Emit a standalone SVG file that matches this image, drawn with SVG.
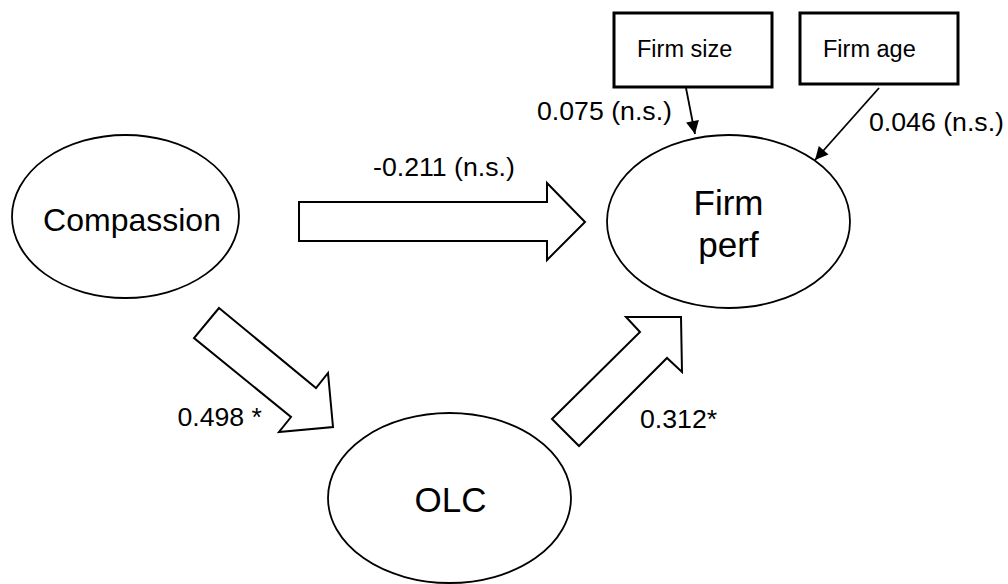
<svg xmlns="http://www.w3.org/2000/svg" width="1008" height="584" viewBox="0 0 1008 584">
  <style>
    .node { fill: #fff; stroke: #000; stroke-width: 1.8; }
    .box { fill: #fff; stroke: #000; stroke-width: 3; }
    .block { fill: #fff; stroke: #000; stroke-width: 2; stroke-linejoin: miter; }
    .thin { stroke: #000; stroke-width: 1.8; fill: none; }
    text { font-family: "Liberation Sans", Arial, sans-serif; fill: #000; }
    .lbl { font-size: 26.7px; }
    .big { font-size: 35px; text-anchor: middle; }
    .small { font-size: 23.5px; }
  </style>
  <defs>
    <marker id="ah" viewBox="0 0 10 10" refX="10" refY="5" markerWidth="16" markerHeight="13" markerUnits="userSpaceOnUse" orient="auto">
      <path d="M0,0 L10,5 L0,10 Z" fill="#000"/>
    </marker>
  </defs>
  <rect width="1008" height="584" fill="#fff"/>

  <g id="compassion">
    <ellipse class="node" cx="125.5" cy="216.5" rx="113.5" ry="81.5"/>
    <text x="132" y="231" style="font-size:32px;text-anchor:middle">Compassion</text>
  </g>
  <g id="firmperf">
    <ellipse class="node" cx="728.5" cy="221.5" rx="121.5" ry="86.5"/>
    <text class="big" x="728.5" y="215">Firm</text>
    <text class="big" x="728.5" y="257">perf</text>
  </g>
  <g id="olc">
    <ellipse class="node" cx="449.5" cy="498" rx="121.5" ry="85"/>
    <text class="big" x="450.5" y="512">OLC</text>
  </g>
  <g id="firmsize">
    <rect class="box" x="614" y="13" width="158" height="74"/>
    <text class="small" x="637" y="57">Firm size</text>
  </g>
  <g id="firmage">
    <rect class="box" x="800" y="13" width="158" height="71"/>
    <text class="small" x="823" y="57">Firm age</text>
  </g>

  <g id="connectors">
    <polygon class="block" points="299,202 547,202 547,183 585,222 547,260 547,241 299,241"/>
    <polygon class="block" points="219,308 316,388 328,373 333,427 279,432 291,417 194,338"/>
    <polygon class="block" points="552,419 640,332 626,317 681,317 682,372 667,358 579,446"/>
    <line class="thin" x1="686" y1="88" x2="695" y2="134" marker-end="url(#ah)"/>
    <line class="thin" x1="879" y1="88" x2="815" y2="160" marker-end="url(#ah)"/>
  </g>

  <g id="labels">
    <text class="lbl" x="373" y="176">-0.211 (n.s.)</text>
    <text class="lbl" x="537" y="120">0.075 (n.s.)</text>
    <text class="lbl" x="869" y="131">0.046 (n.s.)</text>
    <text class="lbl" x="262" y="426" text-anchor="end">0.498 *</text>
    <text class="lbl" x="640" y="428">0.312*</text>
  </g>
</svg>
